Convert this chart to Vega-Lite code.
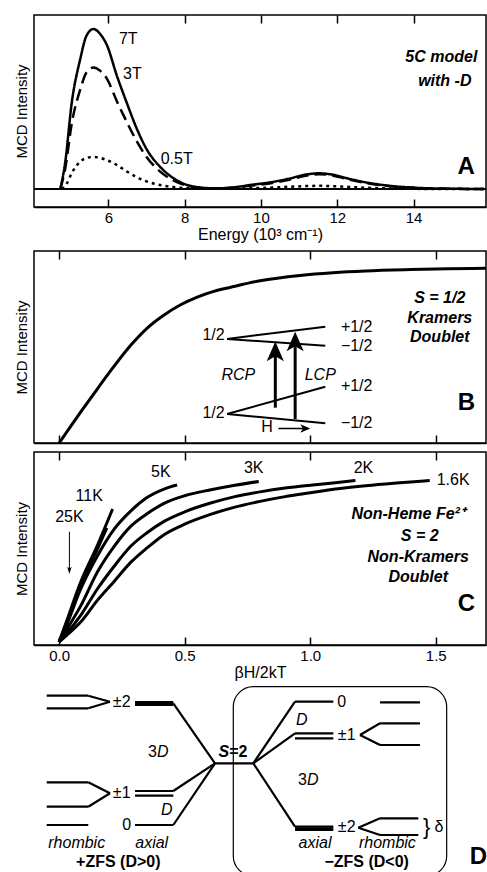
{
  "$schema": "https://vega.github.io/schema/vega-lite/v6.json",
  "padding": {"left": 13, "top": 13, "right": 0, "bottom": 0},
  "config": {
    "view": {"stroke": "black", "strokeWidth": 1.5},
    "font": "Liberation Sans",
    "axis": {"grid": false, "domainColor": "black", "domainWidth": 1.5, "tickColor": "black", "tickWidth": 1.5, "tickSize": -8, "labelColor": "black", "labelFontSize": 15, "labelFont": "Liberation Sans", "titleFont": "Liberation Sans", "titleFontSize": 16, "titleFontWeight": "normal", "titleColor": "black"},
    "axisY": {"labels": false, "ticks": false, "domain": false, "titlePadding": 5, "minExtent": 0, "maxExtent": 0, "titleFontSize": 15},
    "text": {"font": "Liberation Sans", "fontSize": 16, "color": "black", "baseline": "middle", "align": "center"},
    "line": {"color": "black"},
    "rule": {"color": "black"},
    "point": {"color": "black", "filled": true, "opacity": 1}
  },
  "spacing": 0,
  "vconcat": [
    {
      "spacing": 6,
      "vconcat": [
        {
          "width": 452, "height": 192,
          "resolve": {"axis": {"x": "independent"}},
          "layer": [
            {
              "data": {"values": [
                {"f":"7T","x":4.74,"y":0},{"f":"7T","x":4.87,"y":0.17},{"f":"7T","x":5.04,"y":0.54},{"f":"7T","x":5.26,"y":0.81},{"f":"7T","x":5.43,"y":0.96},{"f":"7T","x":5.61,"y":1.0},{"f":"7T","x":5.78,"y":0.97},{"f":"7T","x":5.96,"y":0.9},{"f":"7T","x":6.22,"y":0.71},{"f":"7T","x":6.48,"y":0.54},{"f":"7T","x":6.74,"y":0.38},{"f":"7T","x":7.0,"y":0.25},{"f":"7T","x":7.35,"y":0.14},{"f":"7T","x":7.69,"y":0.07},{"f":"7T","x":8.04,"y":0.027},{"f":"7T","x":8.39,"y":0.01},{"f":"7T","x":8.83,"y":0.004},{"f":"7T","x":9.26,"y":0.01},{"f":"7T","x":9.78,"y":0.027},{"f":"7T","x":10.3,"y":0.044},{"f":"7T","x":10.74,"y":0.065},{"f":"7T","x":11.17,"y":0.09},{"f":"7T","x":11.52,"y":0.098},{"f":"7T","x":11.87,"y":0.09},{"f":"7T","x":12.22,"y":0.069},{"f":"7T","x":12.74,"y":0.042},{"f":"7T","x":13.26,"y":0.023},{"f":"7T","x":14.04,"y":0.008},{"f":"7T","x":14.9,"y":0.002},{"f":"7T","x":15.85,"y":0},
                {"f":"3T","x":4.74,"y":0},{"f":"3T","x":4.87,"y":0.13},{"f":"3T","x":5.04,"y":0.41},{"f":"3T","x":5.26,"y":0.62},{"f":"3T","x":5.43,"y":0.73},{"f":"3T","x":5.61,"y":0.76},{"f":"3T","x":5.78,"y":0.74},{"f":"3T","x":5.96,"y":0.69},{"f":"3T","x":6.22,"y":0.55},{"f":"3T","x":6.48,"y":0.42},{"f":"3T","x":6.74,"y":0.3},{"f":"3T","x":7.0,"y":0.2},{"f":"3T","x":7.35,"y":0.11},{"f":"3T","x":7.69,"y":0.055},{"f":"3T","x":8.04,"y":0.022},{"f":"3T","x":8.39,"y":0.008},{"f":"3T","x":8.83,"y":0.003},{"f":"3T","x":9.26,"y":0.008},{"f":"3T","x":9.78,"y":0.022},{"f":"3T","x":10.3,"y":0.038},{"f":"3T","x":10.74,"y":0.058},{"f":"3T","x":11.17,"y":0.083},{"f":"3T","x":11.52,"y":0.092},{"f":"3T","x":11.87,"y":0.085},{"f":"3T","x":12.22,"y":0.064},{"f":"3T","x":12.74,"y":0.038},{"f":"3T","x":13.26,"y":0.02},{"f":"3T","x":14.04,"y":0.007},{"f":"3T","x":14.9,"y":0.002},{"f":"3T","x":15.85,"y":0},
                {"f":"0.5T","x":4.78,"y":0},{"f":"0.5T","x":4.9,"y":0.03},{"f":"0.5T","x":5.04,"y":0.1},{"f":"0.5T","x":5.26,"y":0.17},{"f":"0.5T","x":5.43,"y":0.195},{"f":"0.5T","x":5.61,"y":0.2},{"f":"0.5T","x":5.78,"y":0.195},{"f":"0.5T","x":5.96,"y":0.18},{"f":"0.5T","x":6.22,"y":0.15},{"f":"0.5T","x":6.48,"y":0.11},{"f":"0.5T","x":6.74,"y":0.075},{"f":"0.5T","x":7.0,"y":0.048},{"f":"0.5T","x":7.35,"y":0.025},{"f":"0.5T","x":7.69,"y":0.012},{"f":"0.5T","x":8.04,"y":0.005},{"f":"0.5T","x":8.39,"y":0.002},{"f":"0.5T","x":8.83,"y":0.001},{"f":"0.5T","x":9.26,"y":0.002},{"f":"0.5T","x":9.78,"y":0.005},{"f":"0.5T","x":10.3,"y":0.009},{"f":"0.5T","x":10.74,"y":0.014},{"f":"0.5T","x":11.17,"y":0.018},{"f":"0.5T","x":11.52,"y":0.02},{"f":"0.5T","x":11.87,"y":0.018},{"f":"0.5T","x":12.22,"y":0.014},{"f":"0.5T","x":12.74,"y":0.008},{"f":"0.5T","x":13.26,"y":0.004},{"f":"0.5T","x":14.04,"y":0.001},{"f":"0.5T","x":14.9,"y":0},{"f":"0.5T","x":15.85,"y":0}
              ]},
              "mark": {"type": "line", "strokeWidth": 2.5, "interpolate": "monotone", "color": "black"},
              "encoding": {
                "x": {"field": "x", "type": "quantitative", "scale": {"domain": [4.05, 15.9], "nice": false, "zero": false}, "axis": {"orient": "bottom", "values": [6, 8, 10, 12, 14], "format": "d", "title": "Energy (10³ cm⁻¹)", "labelPadding": 11, "titlePadding": 1}},
                "y": {"field": "y", "type": "quantitative", "scale": {"domain": [-0.1125, 1.0875], "nice": false, "zero": false}, "title": "MCD Intensity"},
                "detail": {"field": "f"},
                "strokeDash": {"field": "f", "type": "nominal", "scale": {"domain": ["7T", "3T", "0.5T"], "range": [[1, 0], [12, 6], [3, 4]]}, "legend": null}
              }
            },
            {
              "data": {"values": [{}]},
              "mark": {"type": "rule", "strokeWidth": 2},
              "encoding": {"y": {"datum": 0, "type": "quantitative", "scale": {"domain": [-0.1125, 1.0875], "nice": false, "zero": false}, "title": "MCD Intensity"}}
            },
            {
              "data": {"values": [{"x": 6.52, "y": 0.94, "t": "7T"}, {"x": 6.63, "y": 0.72, "t": "3T"}, {"x": 7.79, "y": 0.19, "t": "0.5T"}]},
              "mark": {"type": "text"},
              "encoding": {
                "x": {"field": "x", "type": "quantitative", "scale": {"domain": [4.05, 15.9], "nice": false, "zero": false}, "axis": {"orient": "top", "values": [6, 8, 10, 12, 14], "labels": false, "title": null, "domain": false}},
                "y": {"field": "y", "type": "quantitative", "scale": {"domain": [-0.1125, 1.0875], "nice": false, "zero": false}, "title": "MCD Intensity"},
                "text": {"field": "t"}
              }
            },
            {
              "data": {"values": [{"x": 14.73, "y": 0.825, "t": "5C model"}, {"x": 14.82, "y": 0.675, "t": "with -D"}]},
              "mark": {"type": "text", "fontWeight": "bold", "fontStyle": "italic"},
              "encoding": {
                "x": {"field": "x", "type": "quantitative", "axis": null},
                "y": {"field": "y", "type": "quantitative", "title": "MCD Intensity"},
                "text": {"field": "t"}
              }
            },
            {
              "data": {"values": [{"x": 15.38, "y": 0.1375, "t": "A"}]},
              "mark": {"type": "text", "fontWeight": "bold", "fontSize": 24},
              "encoding": {
                "x": {"field": "x", "type": "quantitative", "axis": null},
                "y": {"field": "y", "type": "quantitative", "title": "MCD Intensity"},
                "text": {"field": "t"}
              }
            }
          ]
        },
        {
          "spacing": 0,
          "vconcat": [
            {
              "width": 452, "height": 192,
              "resolve": {"axis": {"x": "independent"}},
              "layer": [
                {
                  "data": {"values": [
                    {"x":0.0,"y":0.0},{"x":0.015,"y":0.028},{"x":0.087,"y":0.163},{"x":0.154,"y":0.285},{"x":0.219,"y":0.4},{"x":0.286,"y":0.51},{"x":0.352,"y":0.6},{"x":0.418,"y":0.667},{"x":0.484,"y":0.72},{"x":0.55,"y":0.76},{"x":0.616,"y":0.79},{"x":0.68,"y":0.81},{"x":0.8,"y":0.845},{"x":0.96,"y":0.873},{"x":1.09,"y":0.887},{"x":1.22,"y":0.896},{"x":1.4,"y":0.903},{"x":1.55,"y":0.907},{"x":1.7,"y":0.91}
                  ]},
                  "mark": {"type": "line", "strokeWidth": 3, "interpolate": "monotone"},
                  "encoding": {
                    "x": {"field": "x", "type": "quantitative", "scale": {"domain": [-0.1, 1.7], "nice": false, "zero": false}, "axis": {"orient": "bottom", "values": [0, 0.5, 1, 1.5], "labels": false, "title": null}},
                    "y": {"field": "y", "type": "quantitative", "scale": {"domain": [0, 1], "nice": false, "zero": false}, "title": "MCD Intensity"}
                  }
                },
                {
                  "data": {"values": [
                    {"x":0.669,"y":0.542,"x2":1.06,"y2":0.606},{"x":0.669,"y":0.542,"x2":1.06,"y2":0.507},
                    {"x":0.669,"y":0.151,"x2":1.06,"y2":0.293},{"x":0.669,"y":0.151,"x2":1.06,"y2":0.103}
                  ]},
                  "mark": {"type": "rule", "strokeWidth": 2},
                  "encoding": {
                    "x": {"field": "x", "type": "quantitative", "scale": {"domain": [-0.1, 1.7], "nice": false, "zero": false}, "axis": {"orient": "top", "values": [0, 0.5, 1, 1.5], "labels": false, "title": null, "domain": false}},
                    "y": {"field": "y", "type": "quantitative", "title": "MCD Intensity"},
                    "x2": {"field": "x2"}, "y2": {"field": "y2"}
                  }
                },
                {
                  "data": {"values": [
                    {"x":0.861,"y":0.184,"x2":0.861,"y2":0.5},{"x":0.94,"y":0.125,"x2":0.94,"y2":0.55}
                  ]},
                  "mark": {"type": "rule", "strokeWidth": 3},
                  "encoding": {
                    "x": {"field": "x", "type": "quantitative", "axis": null},
                    "y": {"field": "y", "type": "quantitative", "title": "MCD Intensity"},
                    "x2": {"field": "x2"}, "y2": {"field": "y2"}
                  }
                },
                {
                  "data": {"values": [{"x":0.873,"y":0.0755,"x2":0.99,"y2":0.0755}]},
                  "mark": {"type": "rule", "strokeWidth": 1.5},
                  "encoding": {
                    "x": {"field": "x", "type": "quantitative", "axis": null},
                    "y": {"field": "y", "type": "quantitative", "title": "MCD Intensity"},
                    "x2": {"field": "x2"}, "y2": {"field": "y2"}
                  }
                },
                {
                  "data": {"values": [{"x":0.861,"y":0.528},{"x":0.94,"y":0.58}]},
                  "mark": {"type": "point", "shape": "M0,0L0.7,1.6L0,1.2L-0.7,1.6Z", "size": 600, "strokeWidth": 0},
                  "encoding": {
                    "x": {"field": "x", "type": "quantitative", "axis": null},
                    "y": {"field": "y", "type": "quantitative", "title": "MCD Intensity"}
                  }
                },
                {
                  "data": {"values": [{"x":1.0,"y":0.0755}]},
                  "mark": {"type": "point", "shape": "M0,0L-1.6,-0.7L-1.2,0L-1.6,0.7Z", "size": 150, "strokeWidth": 0},
                  "encoding": {
                    "x": {"field": "x", "type": "quantitative", "axis": null},
                    "y": {"field": "y", "type": "quantitative", "title": "MCD Intensity"}
                  }
                },
                {
                  "data": {"values": [
                    {"x":0.615,"y":0.5625,"t":"1/2"},{"x":0.615,"y":0.156,"t":"1/2"},
                    {"x":1.185,"y":0.606,"t":"+1/2"},{"x":1.185,"y":0.507,"t":"−1/2"},
                    {"x":1.185,"y":0.297,"t":"+1/2"},{"x":1.185,"y":0.106,"t":"−1/2"},
                    {"x":0.828,"y":0.083,"t":"H"}
                  ]},
                  "mark": {"type": "text"},
                  "encoding": {
                    "x": {"field": "x", "type": "quantitative", "axis": null},
                    "y": {"field": "y", "type": "quantitative", "title": "MCD Intensity"},
                    "text": {"field": "t"}
                  }
                },
                {
                  "data": {"values": [{"x":0.714,"y":0.354,"t":"RCP"},{"x":1.04,"y":0.354,"t":"LCP"}]},
                  "mark": {"type": "text", "fontStyle": "italic"},
                  "encoding": {
                    "x": {"field": "x", "type": "quantitative", "axis": null},
                    "y": {"field": "y", "type": "quantitative", "title": "MCD Intensity"},
                    "text": {"field": "t"}
                  }
                },
                {
                  "data": {"values": [{"x":1.516,"y":0.754,"t":"S = 1/2"},{"x":1.516,"y":0.65,"t":"Kramers"},{"x":1.516,"y":0.554,"t":"Doublet"}]},
                  "mark": {"type": "text", "fontStyle": "italic", "fontWeight": "bold"},
                  "encoding": {
                    "x": {"field": "x", "type": "quantitative", "axis": null},
                    "y": {"field": "y", "type": "quantitative", "title": "MCD Intensity"},
                    "text": {"field": "t"}
                  }
                },
                {
                  "data": {"values": [{"x":1.622,"y":0.207,"t":"B"}]},
                  "mark": {"type": "text", "fontWeight": "bold", "fontSize": 24},
                  "encoding": {
                    "x": {"field": "x", "type": "quantitative", "axis": null},
                    "y": {"field": "y", "type": "quantitative", "title": "MCD Intensity"},
                    "text": {"field": "t"}
                  }
                }
              ]
            },
            {
              "width": 452, "height": 193,
              "resolve": {"axis": {"x": "independent"}},
              "layer": [
                {
                  "data": {"values": [
                    {"T":"25K","x":0,"y":0},{"T":"25K","x":0.03,"y":0.1},{"T":"25K","x":0.086,"y":0.3},{"T":"25K","x":0.153,"y":0.49},{"T":"25K","x":0.19,"y":0.6},
                    {"T":"11K","x":0,"y":0},{"T":"11K","x":0.03,"y":0.11},{"T":"11K","x":0.086,"y":0.315},{"T":"11K","x":0.153,"y":0.51},{"T":"11K","x":0.213,"y":0.7},
                    {"T":"5K","x":0,"y":0},{"T":"5K","x":0.03,"y":0.09},{"T":"5K","x":0.086,"y":0.279},{"T":"5K","x":0.153,"y":0.454},{"T":"5K","x":0.22,"y":0.595},{"T":"5K","x":0.286,"y":0.69},{"T":"5K","x":0.35,"y":0.76},{"T":"5K","x":0.418,"y":0.805},{"T":"5K","x":0.47,"y":0.826},
                    {"T":"3K","x":0,"y":0},{"T":"3K","x":0.03,"y":0.065},{"T":"3K","x":0.086,"y":0.19},{"T":"3K","x":0.153,"y":0.37},{"T":"3K","x":0.22,"y":0.505},{"T":"3K","x":0.286,"y":0.61},{"T":"3K","x":0.35,"y":0.675},{"T":"3K","x":0.418,"y":0.73},{"T":"3K","x":0.5,"y":0.77},{"T":"3K","x":0.6,"y":0.8},{"T":"3K","x":0.7,"y":0.825},{"T":"3K","x":0.795,"y":0.845},
                    {"T":"2K","x":0,"y":0},{"T":"2K","x":0.03,"y":0.045},{"T":"2K","x":0.086,"y":0.14},{"T":"2K","x":0.153,"y":0.28},{"T":"2K","x":0.22,"y":0.4},{"T":"2K","x":0.286,"y":0.505},{"T":"2K","x":0.35,"y":0.575},{"T":"2K","x":0.418,"y":0.635},{"T":"2K","x":0.5,"y":0.685},{"T":"2K","x":0.6,"y":0.73},{"T":"2K","x":0.7,"y":0.765},{"T":"2K","x":0.8,"y":0.79},{"T":"2K","x":0.9,"y":0.81},{"T":"2K","x":1.0,"y":0.825},{"T":"2K","x":1.1,"y":0.838},{"T":"2K","x":1.18,"y":0.85},
                    {"T":"1.6K","x":0,"y":0},{"T":"1.6K","x":0.03,"y":0.035},{"T":"1.6K","x":0.086,"y":0.105},{"T":"1.6K","x":0.153,"y":0.22},{"T":"1.6K","x":0.22,"y":0.32},{"T":"1.6K","x":0.286,"y":0.42},{"T":"1.6K","x":0.35,"y":0.495},{"T":"1.6K","x":0.418,"y":0.565},{"T":"1.6K","x":0.5,"y":0.62},{"T":"1.6K","x":0.6,"y":0.67},{"T":"1.6K","x":0.7,"y":0.71},{"T":"1.6K","x":0.8,"y":0.74},{"T":"1.6K","x":0.9,"y":0.765},{"T":"1.6K","x":1.0,"y":0.785},{"T":"1.6K","x":1.1,"y":0.805},{"T":"1.6K","x":1.2,"y":0.82},{"T":"1.6K","x":1.3,"y":0.832},{"T":"1.6K","x":1.4,"y":0.842},{"T":"1.6K","x":1.476,"y":0.85}
                  ]},
                  "mark": {"type": "line", "strokeWidth": 3, "interpolate": "monotone"},
                  "encoding": {
                    "x": {"field": "x", "type": "quantitative", "scale": {"domain": [-0.1, 1.7], "nice": false, "zero": false}, "axis": {"orient": "bottom", "values": [0, 0.5, 1, 1.5], "format": ".1f", "title": "βH/2kT", "labelPadding": 11, "titlePadding": 1}},
                    "y": {"field": "y", "type": "quantitative", "scale": {"domain": [-0.016, 1.0], "nice": false, "zero": false}, "title": "MCD Intensity"},
                    "detail": {"field": "T"}
                  }
                },
                {
                  "data": {"values": [{"x":0.405,"y":0.896,"t":"5K"},{"x":0.12,"y":0.77,"t":"11K"},{"x":0.041,"y":0.656,"t":"25K"},{"x":0.775,"y":0.914,"t":"3K"},{"x":1.212,"y":0.914,"t":"2K"},{"x":1.569,"y":0.85,"t":"1.6K"}]},
                  "mark": {"type": "text"},
                  "encoding": {
                    "x": {"field": "x", "type": "quantitative", "scale": {"domain": [-0.1, 1.7], "nice": false, "zero": false}, "axis": {"orient": "top", "values": [0, 0.5, 1, 1.5], "labels": false, "title": null, "domain": false}},
                    "y": {"field": "y", "type": "quantitative", "title": "MCD Intensity"},
                    "text": {"field": "t"}
                  }
                },
                {
                  "data": {"values": [{"x":0.041,"y":0.58,"x2":0.041,"y2":0.37}]},
                  "mark": {"type": "rule", "strokeWidth": 1},
                  "encoding": {
                    "x": {"field": "x", "type": "quantitative", "axis": null},
                    "y": {"field": "y", "type": "quantitative", "title": "MCD Intensity"},
                    "x2": {"field": "x2"}, "y2": {"field": "y2"}
                  }
                },
                {
                  "data": {"values": [{"x":0.041,"y":0.358}]},
                  "mark": {"type": "point", "shape": "M0,0L-0.5,-1.6L0,-1.2L0.5,-1.6Z", "size": 80, "strokeWidth": 0},
                  "encoding": {
                    "x": {"field": "x", "type": "quantitative", "axis": null},
                    "y": {"field": "y", "type": "quantitative", "title": "MCD Intensity"}
                  }
                },
                {
                  "data": {"values": [{"x":1.39,"y":0.674,"t":"Non-Heme Fe²⁺"},{"x":1.436,"y":0.56,"t":"S = 2"},{"x":1.43,"y":0.446,"t":"Non-Kramers"},{"x":1.43,"y":0.34,"t":"Doublet"}]},
                  "mark": {"type": "text", "fontStyle": "italic", "fontWeight": "bold"},
                  "encoding": {
                    "x": {"field": "x", "type": "quantitative", "axis": null},
                    "y": {"field": "y", "type": "quantitative", "title": "MCD Intensity"},
                    "text": {"field": "t"}
                  }
                },
                {
                  "data": {"values": [{"x":1.622,"y":0.2,"t":"C"}]},
                  "mark": {"type": "text", "fontWeight": "bold", "fontSize": 24},
                  "encoding": {
                    "x": {"field": "x", "type": "quantitative", "axis": null},
                    "y": {"field": "y", "type": "quantitative", "title": "MCD Intensity"},
                    "text": {"field": "t"}
                  }
                }
              ]
            }
          ]
        }
      ]
    },
    {
      "width": 452, "height": 196,
      "view": {"stroke": null},
      "layer": [
        {
          "data": {"values": [{"x":44.09,"y":0.51,"x2":91.3,"y2":97.09}]},
          "mark": {"type": "rect", "fill": null, "stroke": "black", "strokeWidth": 1.2, "cornerRadius": 20},
          "encoding": {
            "x": {"field": "x", "type": "quantitative", "scale": {"domain": [0, 100], "nice": false, "zero": false}, "axis": null},
            "y": {"field": "y", "type": "quantitative", "scale": {"domain": [0, 100], "nice": false, "zero": false}, "axis": null},
            "x2": {"field": "x2"}, "y2": {"field": "y2"}
          }
        },
        {
          "data": {"values": [
            {"x":2.81,"y":92.5,"x2":12.01,"y2":92.5},{"x":12.01,"y":92.5,"x2":16.81,"y2":89.44},{"x":2.81,"y":86.07,"x2":12.01,"y2":86.07},{"x":12.01,"y":86.07,"x2":16.81,"y2":89.44},
            {"x":22.35,"y":89.29,"x2":30.82,"y2":89.29},{"x":22.35,"y":87.76,"x2":30.82,"y2":87.76},{"x":22.35,"y":88.5,"x2":30.82,"y2":88.5},
            {"x":30.82,"y":88.62,"x2":40.04,"y2":58.01},{"x":40.04,"y":58.01,"x2":48.52,"y2":58.01},{"x":40.04,"y":58.01,"x2":30.82,"y2":43.88},
            {"x":22.35,"y":43.88,"x2":30.82,"y2":43.88},{"x":22.35,"y":41.48,"x2":30.82,"y2":41.48},{"x":40.04,"y":58.01,"x2":30.82,"y2":26.53},{"x":22.35,"y":26.53,"x2":30.82,"y2":26.53},
            {"x":2.81,"y":48.32,"x2":12.01,"y2":48.32},{"x":12.01,"y":48.32,"x2":16.81,"y2":42.7},{"x":2.81,"y":35.87,"x2":12.01,"y2":35.87},{"x":12.01,"y":35.87,"x2":16.81,"y2":42.7},{"x":2.81,"y":26.53,"x2":12.01,"y2":26.53},
            {"x":48.52,"y":58.01,"x2":57.74,"y2":89.44},{"x":57.74,"y":89.44,"x2":66.22,"y2":89.44},{"x":48.52,"y":58.01,"x2":57.74,"y2":73.32},{"x":57.74,"y":73.32,"x2":66.22,"y2":73.32},{"x":57.74,"y":70.77,"x2":66.22,"y2":70.77},
            {"x":48.52,"y":58.01,"x2":57.74,"y2":25.66},{"x":57.74,"y":25.66,"x2":66.22,"y2":25.66},{"x":57.74,"y":23.98,"x2":66.22,"y2":23.98},{"x":57.74,"y":24.8,"x2":66.22,"y2":24.8},
            {"x":76.55,"y":89.13,"x2":85.4,"y2":89.13},{"x":72.12,"y":72.45,"x2":76.55,"y2":78.42},{"x":76.55,"y":78.42,"x2":85.4,"y2":78.42},{"x":72.12,"y":72.45,"x2":76.55,"y2":67.35},{"x":76.55,"y":67.35,"x2":85.4,"y2":67.35},
            {"x":71.75,"y":25.15,"x2":76.55,"y2":29.95},{"x":76.55,"y":29.95,"x2":85.02,"y2":29.95},{"x":71.75,"y":25.15,"x2":76.55,"y2":21.43},{"x":76.55,"y":21.43,"x2":85.02,"y2":21.43}
          ]},
          "mark": {"type": "rule", "strokeWidth": 2.2},
          "encoding": {
            "x": {"field": "x", "type": "quantitative", "axis": null},
            "y": {"field": "y", "type": "quantitative", "axis": null},
            "x2": {"field": "x2"}, "y2": {"field": "y2"}
          }
        },
        {
          "data": {"values": [
            {"x":19.4,"y":89.44,"t":"±2"},{"x":19.4,"y":42.7,"t":"±1"},{"x":20.51,"y":26.53,"t":"0"},
            {"x":26.2,"y":63.93,"t":"3"},{"x":59.4,"y":49.49,"t":"3"},
            {"x":68.08,"y":89.44,"t":"0"},{"x":69.18,"y":72.45,"t":"±1"},{"x":69.18,"y":25.66,"t":"±2"},
            {"x":89.6,"y":25.66,"t":"δ"}
          ]},
          "mark": {"type": "text"},
          "encoding": {
            "x": {"field": "x", "type": "quantitative", "axis": null},
            "y": {"field": "y", "type": "quantitative", "axis": null},
            "text": {"field": "t"}
          }
        },
        {
          "data": {"values": [{"x":86.88,"y":25.66,"t":"}"}]},
          "mark": {"type": "text", "fontSize": 22},
          "encoding": {
            "x": {"field": "x", "type": "quantitative", "axis": null},
            "y": {"field": "y", "type": "quantitative", "axis": null},
            "text": {"field": "t"}
          }
        },
        {
          "data": {"values": [
            {"x":28.5,"y":63.93,"t":"D"},{"x":61.7,"y":49.49,"t":"D"},
            {"x":29.36,"y":34.18,"t":"D"},{"x":59.23,"y":80.1,"t":"D"},
            {"x":9.45,"y":17.19,"t":"rhombic"},{"x":26.04,"y":17.19,"t":"axial"},
            {"x":62.17,"y":17.19,"t":"axial"},{"x":78.19,"y":17.19,"t":"rhombic"}
          ]},
          "mark": {"type": "text", "fontStyle": "italic"},
          "encoding": {
            "x": {"field": "x", "type": "quantitative", "axis": null},
            "y": {"field": "y", "type": "quantitative", "axis": null},
            "text": {"field": "t"}
          }
        },
        {
          "data": {"values": [{"x":45.2,"y":63.93,"t":"=2"},{"x":18.65,"y":7.5,"t":"+ZFS (D>0)"},{"x":73.61,"y":7.5,"t":"−ZFS (D<0)"}]},
          "mark": {"type": "text", "fontWeight": "bold"},
          "encoding": {
            "x": {"field": "x", "type": "quantitative", "axis": null},
            "y": {"field": "y", "type": "quantitative", "axis": null},
            "text": {"field": "t"}
          }
        },
        {
          "data": {"values": [{"x":42.0,"y":63.93,"t":"S"}]},
          "mark": {"type": "text", "fontWeight": "bold", "fontStyle": "italic"},
          "encoding": {
            "x": {"field": "x", "type": "quantitative", "axis": null},
            "y": {"field": "y", "type": "quantitative", "axis": null},
            "text": {"field": "t"}
          }
        },
        {
          "data": {"values": [{"x":98.3,"y":10.36,"t":"D"}]},
          "mark": {"type": "text", "fontWeight": "bold", "fontSize": 24},
          "encoding": {
            "x": {"field": "x", "type": "quantitative", "axis": null},
            "y": {"field": "y", "type": "quantitative", "axis": null},
            "text": {"field": "t"}
          }
        }
      ]
    }
  ]
}
